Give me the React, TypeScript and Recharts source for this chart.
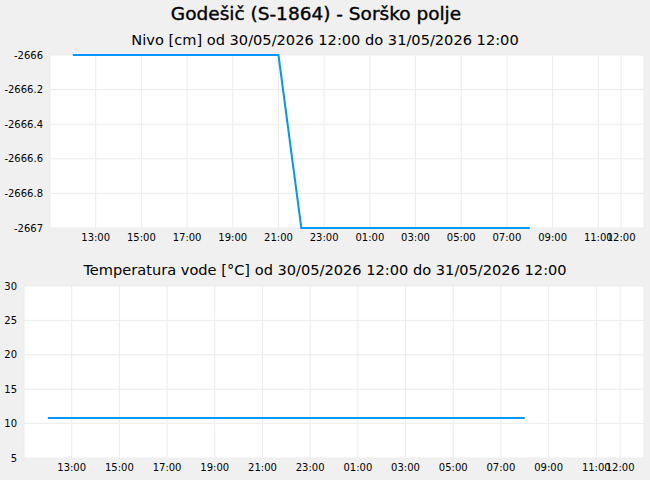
import { LineChart, Line, XAxis, YAxis, CartesianGrid } from "recharts";

// hours counted from 30/05/2026 00:00 (12 = 12:00, 32 = 08:00 next day)
const hours = [12, 13, 14, 15, 16, 17, 18, 19, 20, 21, 22, 23, 24, 25, 26, 27, 28, 29, 30, 31, 32];
const nivo = [
  -2666, -2666, -2666, -2666, -2666, -2666, -2666, -2666, -2666, -2666,
  -2667, -2667, -2667, -2667, -2667, -2667, -2667, -2667, -2667, -2667, -2667,
];
const temperatura = [
  10.8, 10.8, 10.8, 10.8, 10.8, 10.8, 10.8, 10.8, 10.8, 10.8,
  10.8, 10.8, 10.8, 10.8, 10.8, 10.8, 10.8, 10.8, 10.8, 10.8, 10.8,
];
const xTicks = [13, 15, 17, 19, 21, 23, 25, 27, 29, 31, 33, 35, 36];
const nivoTicks = [-2667, -2666.8, -2666.6, -2666.4, -2666.2, -2666];
const tempTicks = [5, 10, 15, 20, 25, 30];

const TITLE = "Godešič (S-1864) - Sorško polje";
const SUB1 = "Nivo [cm] od 30/05/2026 12:00 do 31/05/2026 12:00";
const SUB2 = "Temperatura vode [°C] od 30/05/2026 12:00 do 31/05/2026 12:00";

const LINE = "#0096FF";
const GRID = "#ececec";
const FONT = "DejaVu Sans, sans-serif";

const nivoData = hours.map((h, i) => ({ h, v: nivo[i] }));
const tempData = hours.map((h, i) => ({ h, v: temperatura[i] }));

const fmtHour = (h: number) => `${String(h % 24).padStart(2, "0")}:00`;
const tickStyle = { fontSize: 10, fill: "#000", fontFamily: FONT };

function Panel({ data, yTicks, yDomain, yWidth, height, top }: {
  data: { h: number; v: number }[]; yTicks: number[]; yDomain: [number, number];
  yWidth: number; height: number; top: number;
}) {
  return (
    <LineChart width={650} height={height} data={data} margin={{ top, right: 6, bottom: 2, left: 0 }}>
      <CartesianGrid stroke={GRID} fill="#ffffff" />
      <XAxis dataKey="h" type="number" domain={[11, 37]} ticks={xTicks} interval={0}
        tickFormatter={fmtHour} axisLine={false} tickLine={false} tickSize={0} tickMargin={6}
        height={20} tick={tickStyle} />
      <YAxis type="number" domain={yDomain} ticks={yTicks} interval={0} width={yWidth}
        axisLine={false} tickLine={false} tickSize={0} tickMargin={7}
        tickFormatter={(v: number) => String(v)} tick={tickStyle} />
      <Line type="linear" dataKey="v" stroke={LINE} strokeWidth={2} dot={false} isAnimationActive={false} />
    </LineChart>
  );
}

export default function App() {
  const text = (cx: number, y: number, size: number, s: string, stroke = 0) => (
    <div style={{ position: "absolute", left: cx - 325, width: 650, top: y - size * 0.6, textAlign: "center",
      fontSize: size, lineHeight: `${size * 1.2}px`, fontFamily: FONT, color: "#000", whiteSpace: "nowrap",
      WebkitTextStroke: stroke ? `${stroke}px #000` : undefined }}>{s}</div>
  );
  return (
    <div style={{ position: "absolute", left: 0, top: 0, width: 650, height: 480, background: "#f0f0f0", overflow: "hidden" }}>
      <div style={{ position: "absolute", left: 0, top: 0 }}>
        <Panel data={nivoData} yTicks={nivoTicks} yDomain={[-2667, -2666]} yWidth={50} height={250} top={55} />
      </div>
      <div style={{ position: "absolute", left: 0, top: 250 }}>
        <Panel data={tempData} yTicks={tempTicks} yDomain={[5, 30]} yWidth={24} height={230} top={36} />
      </div>
      {text(316, 14, 18.5, TITLE, 0.4)}
      {text(325, 40, 14.6, SUB1)}
      {text(325, 270, 14.6, SUB2)}
    </div>
  );
}
